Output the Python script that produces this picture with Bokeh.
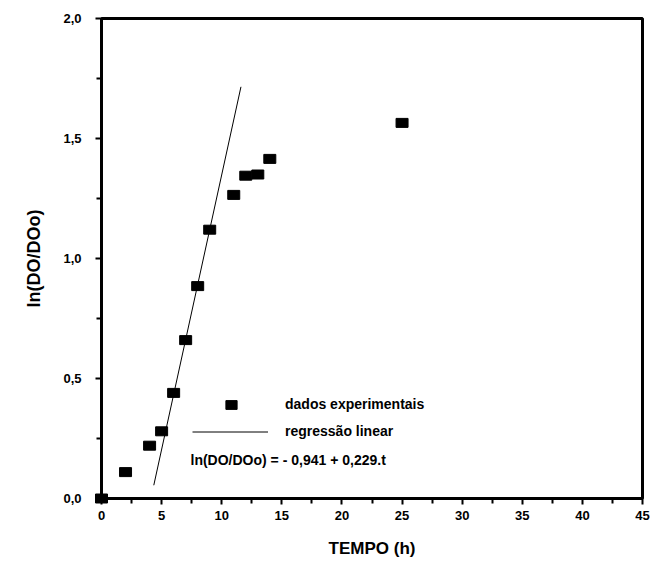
from bokeh.plotting import figure
from bokeh.models import Range1d, FixedTicker, Legend, LegendItem, Label, ColumnDataSource
from bokeh.embed import file_html
from bokeh.resources import INLINE

# ---- data ----
tempo = [0, 2, 4, 5, 6, 7, 8, 9, 11, 12, 13, 14, 25]
ln_do = [0.0, 0.11, 0.22, 0.28, 0.44, 0.66, 0.885, 1.12, 1.265, 1.345, 1.35, 1.415, 1.565]

fit_intercept = -0.941
fit_slope = 0.229
fit_t = [4.35, 11.6]
fit_y = [fit_intercept + fit_slope * t for t in fit_t]

x_ticks = [0, 5, 10, 15, 20, 25, 30, 35, 40, 45]
y_ticks = [0.0, 0.5, 1.0, 1.5, 2.0]
y_tick_labels = ["0,0", "0,5", "1,0", "1,5", "2,0"]

legend_data = "dados experimentais"
legend_fit = "regressão linear"
equation = "ln(DO/DOo) = - 0,941 + 0,229.t"
x_title = "TEMPO (h)"
y_title = "ln(DO/DOo)"

FONT = "Liberation Sans"

p = figure(width=656, height=562, output_backend="svg", toolbar_location=None,
           x_range=Range1d(0, 45), y_range=Range1d(0, 2.0),
           min_border_left=101, min_border_right=14, min_border_top=18, min_border_bottom=64)
p.background_fill_color = "white"
p.border_fill_color = "white"
p.outline_line_color = "black"
p.outline_line_width = 3
p.xgrid.visible = False
p.ygrid.visible = False

# axes
p.xaxis.ticker = FixedTicker(ticks=x_ticks, minor_ticks=[t + 2.5 for t in x_ticks[:-1]])
p.yaxis.ticker = FixedTicker(ticks=y_ticks, minor_ticks=[t + 0.25 for t in y_ticks[:-1]])
p.yaxis.major_label_overrides = {t: l for t, l in zip(y_ticks, y_tick_labels)}
for ax in (p.xaxis, p.yaxis):
    ax.axis_line_color = "black"
    ax.axis_line_width = 3
    ax.major_tick_line_width = 2
    ax.minor_tick_line_width = 2
    ax.major_tick_in = 0
    ax.major_tick_out = 6
    ax.minor_tick_in = 0
    ax.minor_tick_out = 5
    ax.major_label_text_font = FONT
    ax.major_label_text_font_size = "13px"
    ax.major_label_text_font_style = "bold"
    ax.major_label_text_color = "black"
    ax.axis_label_text_font = FONT
    ax.axis_label_text_font_style = "bold"
    ax.axis_label_text_color = "black"
p.xaxis.axis_label = x_title
p.yaxis.axis_label = y_title
p.xaxis.axis_label_text_font_size = "17px"
p.yaxis.axis_label_text_font_size = "18px"
p.xaxis.major_label_standoff = 6
p.yaxis.major_label_standoff = 14
p.xaxis.axis_label_standoff = 16
p.yaxis.axis_label_standoff = 16

# data
src = ColumnDataSource(dict(t=tempo, y=ln_do))
r_pts = p.rect("t", "y", width=12, height=9, width_units="screen", height_units="screen",
               source=src, fill_color="black", line_color="black", level="overlay")
r_fit = p.line(fit_t, fit_y, line_color="black", line_width=1)

# legends
common = dict(padding=0, margin=0, border_line_alpha=0, background_fill_alpha=0,
              label_text_font=FONT, label_text_font_size="14px", label_text_font_style="bold",
              label_text_color="black", label_height=20, spacing=0)
leg1 = Legend(items=[LegendItem(label=legend_data, renderers=[r_pts])],
              location=(123, 84), glyph_width=14, glyph_height=11, label_standoff=47, **common)
leg2 = Legend(items=[LegendItem(label=legend_fit, renderers=[r_fit])],
              location=(91, 57), glyph_width=76, glyph_height=11, label_standoff=17, **common)
p.add_layout(leg1)
p.add_layout(leg2)

eq = Label(x=89, y=39, x_units="screen", y_units="screen", text=equation,
           text_font=FONT, text_font_size="14px", text_font_style="bold",
           text_baseline="middle", text_color="black")
p.add_layout(eq)

open("out.html", "w").write(file_html(p, INLINE))
